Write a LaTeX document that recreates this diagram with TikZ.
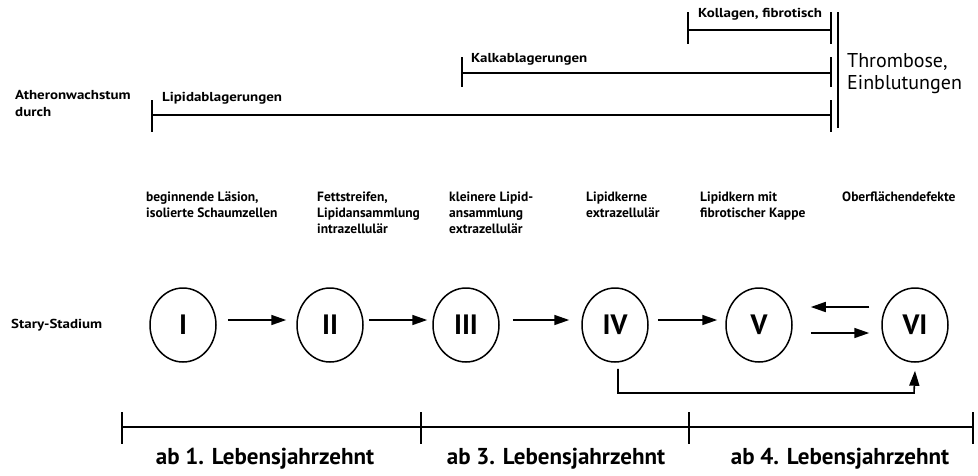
\documentclass[tikz,border=0pt]{standalone}
\usepackage{fontspec}
\setmainfont{PT Sans}
\newfontfamily\widefont[FakeStretch=1.15]{PT Sans}
\usetikzlibrary{arrows.meta,shapes.geometric}
\begin{document}
\begin{tikzpicture}[x=1pt,y=-1pt,
  bar/.style={line width=2pt},
  stage/.style={draw,ellipse,line width=1.5pt,minimum width=66pt,minimum height=74pt,inner sep=0pt,font=\fontsize{28}{28}\selectfont\bfseries},
  flow/.style={line width=1.6pt,-{Triangle[length=15pt,width=10pt]}},
  lbl/.style={anchor=base west,align=left,inner sep=0pt,font=\widefont\fontsize{13}{17}\selectfont\bfseries},
  desc/.style={anchor=north west,align=left,inner sep=0pt,font=\fontsize{13.5}{16}\selectfont\bfseries},
  era/.style={anchor=base,inner sep=0pt,font=\fontsize{23}{23}\selectfont\bfseries}]
\useasboundingbox (0,0) rectangle (978,475);

% growth mechanisms (top ranges)
\draw[bar] (688,12) -- (688,44);
\draw[bar] (688,30) -- (831,30);
\draw[bar] (831,12) -- (831,44);
\node[lbl] (kol) at (698,17) {Kollagen, fibrotisch};

\draw[bar] (462,57) -- (462,87);
\draw[bar] (462,73) -- (831,73);
\draw[bar] (831,57) -- (831,87);
\node[lbl] (kalk) at (471,62) {Kalkablagerungen};

\draw[bar] (152,100) -- (152,132);
\draw[bar] (152,115) -- (831,115);
\draw[bar] (831,100) -- (831,132);
\node[lbl] (lip) at (162,101) {Lipidablagerungen};

\draw[bar] (838,12) -- (838,128);
\node[anchor=north west,align=left,inner sep=0pt,font=\fontsize{20}{22}\selectfont] (thr) at (847,53) {Thrombose,\\Einblutungen};

\node[lbl,anchor=north west] (ath) at (15,90) {Atheronwachstum\\durch};

% stage descriptions
\node[desc] (d1) at (146,192) {beginnende Läsion,\\isolierte Schaumzellen};
\node[desc] (d2) at (317,192) {Fettstreifen,\\Lipidansammlung\\intrazellulär};
\node[desc] (d3) at (449,192) {kleinere Lipid-\\ansammlung\\extrazellulär};
\node[desc] (d4) at (586,192) {Lipidkerne\\extrazellulär};
\node[desc] (d5) at (700,192) {Lipidkern mit\\fibrotischer Kappe};
\node[desc] (d6) at (842,192) {Oberflächendefekte};

% Stary stages
\node[lbl,anchor=west] (st) at (11,325) {Stary-Stadium};
\node[stage] (s1) at (183,325) {I};
\node[stage] (s2) at (330,325) {II};
\node[stage] (s3) at (466,325) {III};
\node[stage] (s4) at (615,325) {IV};
\node[stage] (s5) at (759,325) {V};
\node[stage] (s6) at (915,325) {VI};

\draw[flow] ([yshift=5pt,xshift=11pt]s1.east) -- ([yshift=5pt,xshift=-10pt]s2.west);
\draw[flow] ([yshift=5pt,xshift=5pt]s2.east) -- ([yshift=5pt,xshift=-5pt]s3.west);
\draw[flow] ([yshift=5pt,xshift=13pt]s3.east) -- ([yshift=5pt,xshift=-12pt]s4.west);
\draw[flow] ([yshift=5pt,xshift=9pt]s4.east) -- ([yshift=5pt,xshift=-8pt]s5.west);
\draw[flow] ([yshift=18pt,xshift=-12pt]s6.west) -- ([yshift=18pt,xshift=18pt]s5.east);
\draw[flow] ([yshift=-8pt,xshift=18pt]s5.east) -- ([yshift=-8pt,xshift=-12pt]s6.west);
\draw[flow] ([xshift=3pt,yshift=-6pt]s4.south) |- (914,393) -- ([yshift=-8pt]s6.south);

% age ranges
\draw[bar] (122,427) -- (973,427);
\foreach \x in {122,421,689,973} \draw[bar] (\x,412) -- (\x,444);
\node[era] (a1) at (265,464) {ab 1. Lebensjahrzehnt};
\node[era] (a3) at (556,464) {ab 3. Lebensjahrzehnt};
\node[era] (a4) at (840,464) {ab 4. Lebensjahrzehnt};
\end{tikzpicture}
\end{document}
